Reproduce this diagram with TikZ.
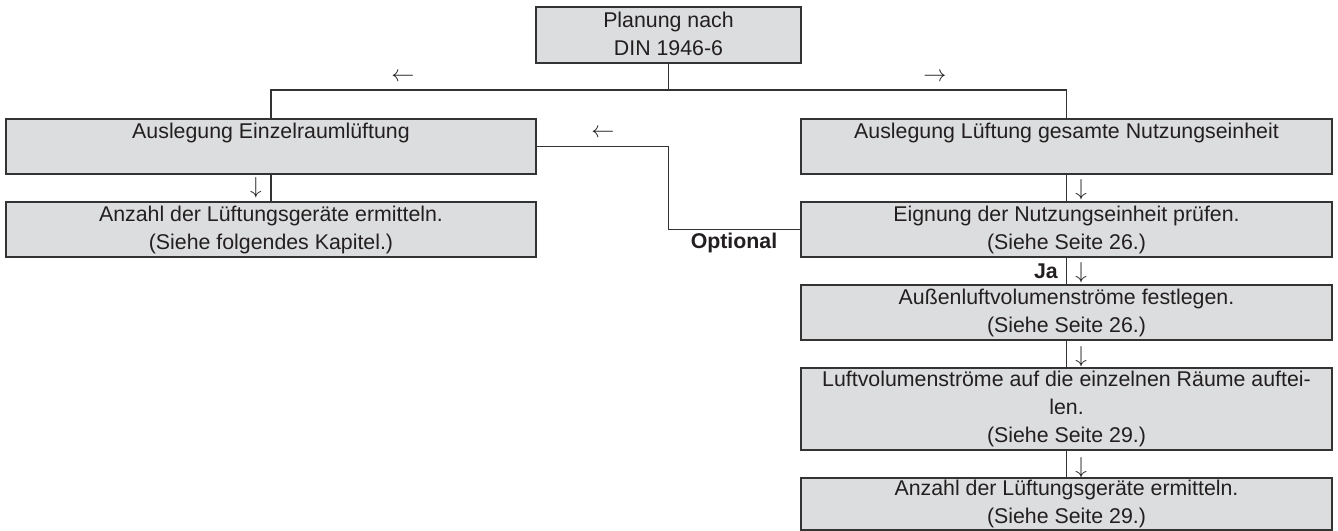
\documentclass[tikz,border=0pt]{standalone}
\usepackage{fontspec}
\setmainfont{Liberation Sans}
\usetikzlibrary{positioning}
\definecolor{kgrau}{HTML}{DCDDDE}
\definecolor{klinie}{HTML}{333333}
\definecolor{ktext}{HTML}{231F20}
\tikzset{
  box/.style={draw=klinie,fill=kgrau,line width=1.1pt,align=center,inner sep=0pt,
    font=\fontsize{16}{21}\selectfont,text=ktext,
    execute at begin node={\rule{0pt}{19pt}},execute at end node={\rule[-2pt]{0pt}{2pt}}},
  wbox/.style={box,minimum width=398pt,minimum height=41.25pt},
  link/.style={draw=klinie,line width=1pt},
  pfeil/.style={font=\fontsize{16}{21}\selectfont,text=ktext,inner sep=0pt},
  fett/.style={font=\fontsize{16}{21}\selectfont\bfseries,text=ktext,inner sep=0pt},
}
\begin{document}
\begin{tikzpicture}[x=0.75pt,y=-0.75pt]
  \useasboundingbox (0,0) rectangle (1338,531);
  % Start
  \node[box,minimum width=198.75pt,minimum height=42pt] (plan) at (668.5,35) {Planung nach\\DIN 1946-6};
  \coordinate (bus) at (669,90);
  % linke Spalte
  \node[wbox,minimum width=397.5pt] (einzel) at (271,146.5) {Auslegung Einzelraumlüftung\\};
  \node[wbox,minimum width=397.5pt] (anzahlL) at (271,229.5) {Anzahl der Lüftungsgeräte ermitteln.\\(Siehe folgendes Kapitel.)};
  % rechte Spalte
  \node[wbox] (gesamt) at (1066.5,146.5) {Auslegung Lüftung gesamte Nutzungseinheit\\};
  \node[wbox] (eignung) at (1066.5,229.5) {Eignung der Nutzungseinheit prüfen.\\(Siehe Seite 26.)};
  \node[wbox] (aussen) at (1066.5,312.5) {Außenluftvolumenströme festlegen.\\(Siehe Seite 26.)};
  \node[wbox,minimum height=61.5pt] (raeume) at (1066.5,409) {Luftvolumenströme auf die einzelnen Räume auftei-\\len.\\(Siehe Seite 29.)};
  \node[wbox,minimum height=39pt] (anzahlR) at (1066.5,504) {Anzahl der Lüftungsgeräte ermitteln.\\(Siehe Seite 29.)};
  % Verbindungen
  \draw[link] (plan.south) -- (plan.south |- bus);
  \draw[link] (einzel.north) -- (einzel.north |- bus) -- (gesamt.north |- bus) -- (gesamt.north);
  \draw[link] (einzel.south) -- (anzahlL.north);
  \foreach \a/\b in {gesamt/eignung,eignung/aussen,aussen/raeume,raeume/anzahlR}
    \draw[link] (\a.south) -- (\b.north);
  \draw[link] (einzel.east) -- (einzel.east -| plan.south) |- (eignung.west);
  % Pfeile und Beschriftungen
  \node[pfeil] (pl) at (403,77) {$\leftarrow$};
  \node[pfeil] (pr) at (935,77) {$\rightarrow$};
  \node[pfeil] (po) at (603,133) {$\leftarrow$};
  \node[pfeil] (dl) at (256,188) {$\downarrow$};
  \foreach \y [count=\i] in {190,273,357,468}
    \node[pfeil] (dr\i) at (1081,\y) {$\downarrow$};
  \node[fett] (opt) at (734,243) {Optional};
  \node[fett,anchor=east] (ja) at (1058,271) {Ja};
\end{tikzpicture}
\end{document}
